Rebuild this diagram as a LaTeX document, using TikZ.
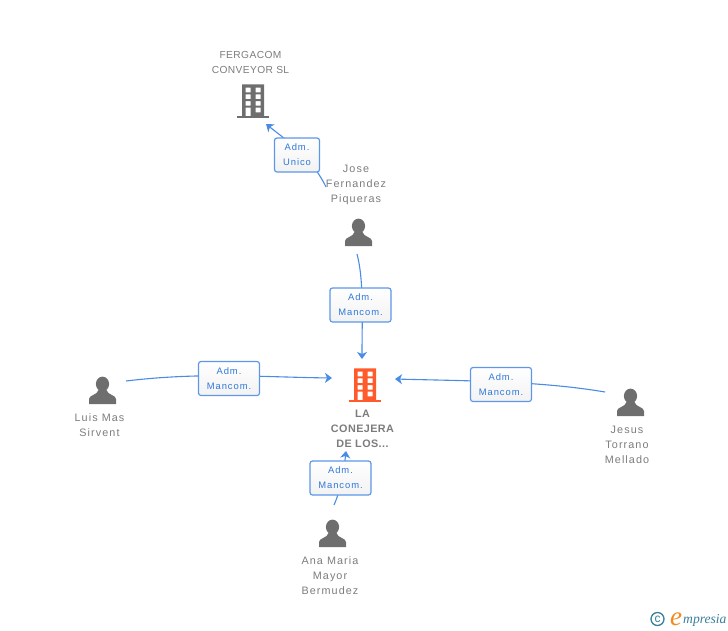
\documentclass[tikz,border=0pt]{standalone}
\usepackage{fontspec}
\setmainfont{Liberation Sans}
\newfontfamily\personfont[LetterSpace=10]{Liberation Sans}
\newfontfamily\firmfont[LetterSpace=4]{Liberation Sans}
\newfontfamily\logofont{Liberation Serif}
\usetikzlibrary{%
  arrows.meta,%
  calc%
}
\definecolor{linkblue}{HTML}{4A8BE6}
\definecolor{boxblue}{HTML}{5C97E8}
\definecolor{textblue}{HTML}{2F78DC}
\definecolor{namegray}{HTML}{7C7C7C}
\definecolor{icongray}{HTML}{6E6E6E}
\definecolor{firmorange}{HTML}{FF5A2B}
\definecolor{logoteal}{HTML}{3A7F9C}
\definecolor{logoorange}{HTML}{F08A1D}
\tikzset{>={Stealth[length=7pt,width=10pt,inset=2pt]}}
\tikzset{
  link/.style={draw=linkblue,line width=1.1pt},
  role/.style={draw=boxblue,line width=1.2pt,rounded corners=2.5pt,top color=white,
    bottom color=white!95!black,text=textblue,minimum height=34pt,align=center,
    inner sep=0pt,font=\personfont\fontsize{9.4}{15}\selectfont},
  personname/.style={text=namegray,align=center,inner sep=0pt,
    font=\personfont\fontsize{10.8}{15}\selectfont},
  firmname/.style={text=namegray,align=center,inner sep=0pt,
    font=\firmfont\fontsize{10.2}{15}\selectfont},
  person/.pic={
    \fill[icongray] (0,-20) ellipse (6.6 and 7.4);
    \fill[icongray] (-13.5,0) -- (-13.5,-5) .. controls (-13.5,-9) and (-5,-9) .. (-4,-14)
      -- (4,-14) .. controls (5,-9) and (13.5,-9) .. (13.5,-5) -- (13.5,0) -- cycle;
  },
  firm/.pic={
    \fill[pic actions] (-16,-2) rectangle (16,0);
    \fill[pic actions,even odd rule] (-11,-2) rectangle (11,-33.7)
      \foreach \row in {-30.3,-23.6,-17}{
        (-7.5,\row) rectangle (-2.5,\row+4.7)
        (2.7,\row) rectangle (7.7,\row+4.7)}
      (2.7,-10.3) rectangle (7.7,-5.6)
      (-7.5,-10.3) rectangle (-2.5,-2);
  }
}
\begin{document}
\begin{tikzpicture}[x=1pt,y=-1pt]
    \useasboundingbox (0,0) rectangle (728,630);
    % free ends of the links
    \coordinate (joseup) at (326,187);
    \coordinate (josedown) at (357,254);
    \coordinate (luisout) at (126,381);
    \coordinate (jesusout) at (605,392);
    \coordinate (anaout) at (334,505);
    \coordinate (fergaend) at (266,124);
    \coordinate (lanorth) at (362,359);
    \coordinate (lawest) at (332,378);
    \coordinate (laeast) at (395,379);
    \coordinate (lasouth) at (346,451);
    % links
    \draw[link,->] (joseup) .. controls (312,158) and (290,143) .. (fergaend);
    \draw[link,->] (josedown) .. controls (364,280) and (362,320) .. (lanorth);
    \draw[link,->] (luisout) .. controls (200,372) and (260,377) .. (lawest);
    \draw[link,->] (jesusout) .. controls (540,381) and (470,381) .. (laeast);
    \draw[link,->] (anaout) .. controls (340,492) and (344,470) .. (lasouth);
    % role boxes
    \node[role,minimum width=45pt] (unico) at (297,155) {Adm.\\Unico};
    \node[role,minimum width=61pt] (josela) at (360.5,305) {Adm.\\Mancom.};
    \node[role,minimum width=61pt] (luisla) at (229,378.5) {Adm.\\Mancom.};
    \node[role,minimum width=61pt] (jesusla) at (501,384.5) {Adm.\\Mancom.};
    \node[role,minimum width=61pt] (anala) at (340.5,478) {Adm.\\Mancom.};
    % icons
    \pic[fill=icongray] at (253,118) {firm};
    \pic[fill=firmorange] at (365,402) {firm};
    \pic at (358.5,246) {person};
    \pic at (102.5,404) {person};
    \pic at (630.5,416) {person};
    \pic at (332.5,547) {person};
    % names
    \node[firmname] (fergacom) at (250.5,62.5) {FERGACOM\\CONVEYOR SL};
    \node[personname] (jose) at (356,185) {Jose\\Fernandez\\Piqueras};
    \node[personname] (luis) at (99.5,425.5) {Luis Mas\\Sirvent};
    \node[personname] (jesus) at (627,445) {Jesus\\Torrano\\Mellado};
    \node[personname] (ana) at (330,576) {Ana Maria\\Mayor\\Bermudez};
    \node[firmname,font=\firmfont\bfseries\fontsize{10.8}{15}\selectfont] (conejera) at (362.5,428.5) {LA\\CONEJERA\\DE LOS...};
    % logo
    \node[circle,draw=logoteal,line width=1.3pt,text=logoteal,inner sep=0pt,minimum size=13pt,
      font=\fontsize{12}{10}\selectfont] (copy) at (657.5,619) {c};
    \node[anchor=base west,inner sep=0pt,text=logoorange,
      font=\logofont\itshape\fontsize{27}{27}\selectfont] (logoe) at (670,625) {e};
    \node[anchor=base west,inner sep=0pt,text=logoteal,
      font=\logofont\itshape\fontsize{13.6}{13}\selectfont] (logotext) at (683,623) {mpresia};
  \end{tikzpicture}
\end{document}
